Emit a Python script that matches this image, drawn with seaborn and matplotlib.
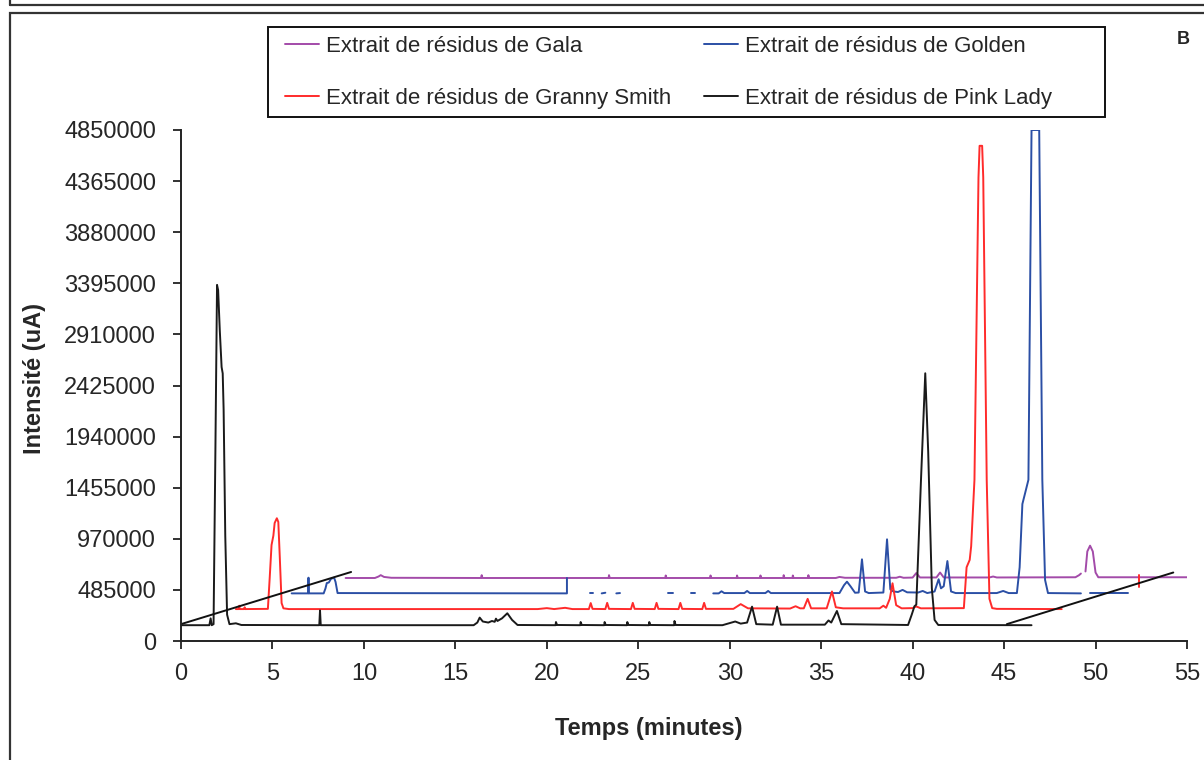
import numpy as np
import pandas as pd
import seaborn as sns
import matplotlib.pyplot as plt
from matplotlib.lines import Line2D
from matplotlib.patches import Rectangle

sns.set_style('ticks')
plt.rcParams['font.family'] = ['Liberation Sans', 'DejaVu Sans']

NAN = float('nan')

# chromatogrammes (temps en min, intensité affichée avec décalage)
gala = [(9.0, 598000), (10.6, 598000), (10.8, 612000), (10.92, 625000), (11.1, 608000), (11.5, 600000),
        (16.4, 598000), (16.44, 625000), (16.48, 598000), (23.38, 598000), (23.4, 625000), (23.44, 598000),
        (26.48, 598000), (26.5, 622000), (26.54, 598000), (28.93, 598000), (28.95, 622000), (28.99, 598000),
        (30.38, 598000), (30.4, 622000), (30.44, 598000), (31.66, 598000), (31.68, 622000), (31.72, 598000),
        (32.93, 598000), (32.95, 625000), (32.99, 598000), (33.43, 598000), (33.45, 622000), (33.49, 598000),
        (34.28, 598000), (34.3, 625000), (34.34, 598000), (35.8, 598000), (36.0, 608000), (36.3, 600000),
        (39.1, 600000), (39.3, 610000), (39.5, 600000), (40.0, 602000), (40.2, 645000), (40.4, 603000),
        (41.3, 603000), (41.5, 650000), (41.7, 603000), (44.2, 603000), (44.4, 612000), (44.6, 603000),
        (48.9, 605000), (49.1, 625000), (49.2, 640000), (NAN, NAN), (49.45, 660000), (49.55, 850000),
        (49.7, 905000), (49.85, 850000), (50.0, 650000), (50.15, 605000), (55.0, 605000)]

golden = [(6.05, 452000), (6.95, 452000), (6.97, 601000), (6.99, 452000), (7.8, 452000), (7.9, 500000),
          (7.97, 550000), (8.08, 555000), (8.2, 590000), (8.37, 601000), (8.45, 560000), (8.56, 455000),
          (21.1, 452000), (21.1, 598000), (NAN, NAN), (22.35, 452000), (22.5, 452000), (NAN, NAN),
          (23.0, 452000), (23.2, 458000), (NAN, NAN), (23.8, 452000), (24.0, 455000), (NAN, NAN),
          (26.6, 452000), (26.9, 452000), (NAN, NAN), (27.9, 452000), (28.1, 452000), (NAN, NAN),
          (29.1, 452000), (29.4, 452000), (29.55, 472000), (29.7, 455000), (30.8, 455000), (30.95, 475000),
          (31.1, 455000), (31.95, 455000), (32.1, 475000), (32.25, 455000), (36.0, 455000), (36.25, 530000),
          (36.41, 563000), (36.6, 520000), (36.85, 458000), (37.05, 460000), (37.23, 775000), (37.4, 470000),
          (37.6, 455000), (38.4, 460000), (38.6, 965000), (38.78, 490000), (38.95, 470000), (39.2, 465000),
          (39.45, 485000), (39.7, 462000), (40.3, 460000), (40.55, 475000), (40.8, 455000), (41.2, 470000),
          (41.42, 586000), (41.55, 500000), (41.7, 520000), (41.9, 759000), (42.1, 470000), (42.35, 455000),
          (44.6, 455000), (44.95, 475000), (45.25, 455000), (45.7, 455000), (45.85, 700000), (46.0, 1300000),
          (46.15, 1404000), (46.33, 1530000), (46.5, 4850000), (46.92, 4850000), (47.09, 1530000),
          (47.24, 580000), (47.4, 455000), (49.2, 452000), (NAN, NAN), (49.7, 452000), (51.76, 452000)]

granny = [(3.0, 303000), (3.15, 303000), (3.19, 335000), (3.21, 303000), (3.45, 303000), (3.48, 320000),
          (3.5, 303000), (4.75, 305000), (4.85, 600000), (4.95, 911000), (5.05, 1000000), (5.12, 1120000),
          (5.24, 1165000), (5.32, 1130000), (5.4, 800000), (5.5, 360000), (5.6, 310000), (5.9, 303000),
          (19.5, 303000), (20.0, 312000), (20.4, 303000), (21.0, 315000), (21.4, 303000),
          (22.3, 303000), (22.4, 360000), (22.5, 305000), (23.2, 303000), (23.3, 362000), (23.4, 305000),
          (24.6, 303000), (24.7, 362000), (24.8, 305000), (25.9, 303000), (26.0, 362000), (26.1, 305000),
          (27.2, 303000), (27.3, 362000), (27.4, 305000), (28.5, 303000), (28.6, 362000), (28.7, 305000),
          (30.2, 305000), (30.6, 350000), (31.0, 310000), (33.3, 308000), (33.6, 330000), (33.85, 310000),
          (34.05, 310000), (34.26, 400000), (34.45, 310000), (35.3, 310000), (35.59, 470000), (35.8, 320000),
          (36.2, 310000), (38.2, 310000), (38.4, 335000), (38.55, 315000), (38.75, 400000), (38.9, 548000),
          (39.1, 340000), (39.4, 310000), (40.0, 312000), (40.2, 328000), (40.45, 310000), (42.8, 312000),
          (42.95, 700000), (43.12, 770000), (43.2, 900000), (43.38, 1530000), (43.6, 4400000),
          (43.66, 4700000), (43.8, 4700000), (43.86, 4400000), (44.05, 1530000), (44.2, 400000),
          (44.35, 312000), (44.6, 305000), (48.15, 303000), (NAN, NAN), (52.4, 512000), (52.4, 626000)]

pink = [(0.0, 150000), (1.55, 150000), (1.62, 215000), (1.68, 150000), (1.78, 160000), (1.88, 1800000),
        (1.97, 3380000), (2.03, 3330000), (2.12, 2950000), (2.18, 2740000), (2.22, 2600000), (2.28, 2540000),
        (2.33, 2200000), (2.42, 1000000), (2.52, 250000), (2.65, 160000), (3.0, 168000), (3.3, 152000),
        (7.56, 150000), (7.6, 290000), (7.64, 150000), (16.0, 150000), (16.2, 175000), (16.33, 222000),
        (16.5, 185000), (16.8, 175000), (17.0, 190000), (17.15, 182000), (17.22, 212000), (17.3, 190000),
        (17.55, 215000), (17.84, 263000), (18.1, 200000), (18.4, 152000), (20.48, 150000), (20.5, 180000),
        (20.56, 152000), (21.83, 150000), (21.85, 180000), (21.91, 152000), (23.14, 150000), (23.16, 180000),
        (23.22, 152000), (24.38, 150000), (24.4, 180000), (24.46, 152000), (25.58, 150000), (25.6, 180000),
        (25.66, 152000), (26.96, 150000), (26.98, 190000), (27.04, 152000), (29.6, 150000), (30.0, 170000),
        (30.3, 185000), (30.6, 165000), (30.95, 175000), (31.22, 326000), (31.45, 160000), (32.35, 155000),
        (32.59, 326000), (32.8, 155000), (35.2, 155000), (35.4, 195000), (35.55, 175000), (35.86, 285000),
        (36.1, 160000), (39.75, 152000), (39.95, 250000), (40.1, 330000), (40.2, 345000), (40.45, 1500000),
        (40.69, 2541000), (40.85, 1800000), (41.05, 500000), (41.2, 200000), (41.4, 152000), (46.5, 150000)]

cultivars = ['Extrait de résidus de Gala', 'Extrait de résidus de Golden',
             'Extrait de résidus de Granny Smith', 'Extrait de résidus de Pink Lady']
colors = ['#a34ba9', '#2b4fa5', '#ff2b2b', '#1a1a1a']

# lignes de perspective
depth_left = [(0.0, 160000), (9.3, 655000)]
depth_right = [(45.15, 160000), (54.25, 650000)]

y_ticks = [0, 485000, 970000, 1455000, 1940000, 2425000, 2910000, 3395000, 3880000, 4365000, 4850000]
x_ticks = [0, 5, 10, 15, 20, 25, 30, 35, 40, 45, 50, 55]

# mise en forme longue, un segment par morceau continu
rows = []
for name, trace in zip(cultivars, [gala, golden, granny, pink]):
    seg = 0
    for t, v in trace:
        if np.isnan(t):
            seg += 1
            continue
        rows.append((name, f'{name}_{seg}', t, v))
df = pd.DataFrame(rows, columns=['cultivar', 'seg', 'temps', 'intensite'])

fig = plt.figure(figsize=(12.04, 7.6), dpi=100)
ax = fig.add_axes([181 / 1204, 1 - 641 / 760, (1187 - 181) / 1204, 511 / 760])

sns.lineplot(data=df, x='temps', y='intensite', hue='cultivar', units='seg', estimator=None,
             sort=False, palette=dict(zip(cultivars, colors)), hue_order=cultivars,
             linewidth=1.4, legend=False, ax=ax)

for line in [depth_left, depth_right]:
    lx, ly = zip(*line)
    ax.plot(lx, ly, color='#111111', lw=1.4)

ax.set_xlim(0, 55)
ax.set_ylim(0, 4850000)
ax.set_xticks(x_ticks)
ax.set_xticklabels([str(v) for v in x_ticks])
ax.set_yticks(y_ticks)
ax.set_yticklabels([str(v) for v in y_ticks])
ax.tick_params(axis='both', labelsize=17, length=6, width=1.3, color='#222222')
ax.tick_params(axis='y', pad=12)
ax.tick_params(axis='x', pad=10)
for s in ['top', 'right']:
    ax.spines[s].set_visible(False)
for s in ['left', 'bottom']:
    ax.spines[s].set_linewidth(1.4)
    ax.spines[s].set_color('#222222')
ax.set_xlabel('Temps (minutes)', fontsize=17, fontweight='bold')
ax.xaxis.set_label_coords((649 - 181) / 1006, -(717 - 641) / 511)
ax.set_ylabel('Intensité (uA)', fontsize=17, fontweight='bold')
ax.yaxis.set_label_coords(-(181 - 46) / 1006, (641 - 378) / 511)

# légende sans cadre (remplie par colonne -> ordre ligne par ligne) + cadre dessiné à part
order = [0, 2, 1, 3]
handles = [Line2D([], [], color=colors[i], lw=1.4) for i in order]
fig.legend(handles, [cultivars[i] for i in order], ncol=2, frameon=False, loc='upper left',
           bbox_to_anchor=(285 / 1204, 1 - 36 / 760), fontsize=16, borderpad=0,
           handlelength=1.55, handletextpad=0.3, columnspacing=1.45, labelspacing=1.4,
           borderaxespad=0)
fig.add_artist(Rectangle((268 / 1204, 1 - 117 / 760), (1105 - 268) / 1204, 90 / 760,
                         transform=fig.transFigure, fill=False, ec='#111111', lw=1.4))

fig.text(1183 / 1204, 1 - 40 / 760, 'B', fontsize=13, fontweight='bold', ha='center', va='center')

# cadres de la page
fig.add_artist(Rectangle((10 / 1204, -0.05), 1.2, 1 - 13 / 760 + 0.05, transform=fig.transFigure,
                         fill=False, ec='#333333', lw=1.6))
fig.add_artist(Line2D([10 / 1204, 1.0], [1 - 5 / 760] * 2, transform=fig.transFigure, color='#333333', lw=1.6))
fig.add_artist(Line2D([10 / 1204] * 2, [1 - 5 / 760, 1.0], transform=fig.transFigure, color='#333333', lw=1.6))

fig.savefig('out.png', dpi=100)
